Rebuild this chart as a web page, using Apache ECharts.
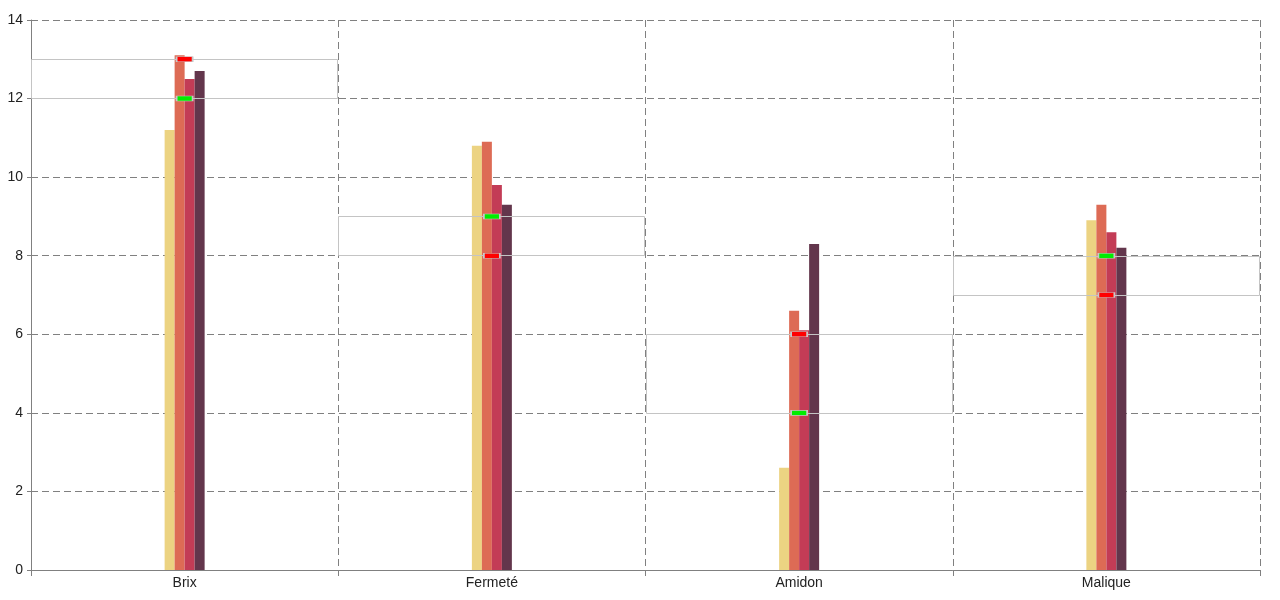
<!DOCTYPE html>
<html><head><meta charset="utf-8">
<script src="https://cdn.jsdelivr.net/npm/echarts@6/dist/echarts.min.js"></script>
<style>html,body{margin:0;padding:0;background:#fff}#c{width:1280px;height:600px}</style>
</head><body><div id="c"></div>
<script>
var categories = ['Brix', 'Fermeté', 'Amidon', 'Malique'];
var series1 = [11.2, 10.8, 2.6, 8.9];
var series2 = [13.1, 10.9, 6.6, 9.3];
var series3 = [12.5, 9.8, 6.1, 8.6];
var series4 = [12.7, 9.3, 8.3, 8.2];
var rangeLow = [12, 8, 4, 7];
var rangeHigh = [13, 9, 6, 8];
var redMarks = [13, 8, 6, 7];
var greenMarks = [12, 9, 4, 8];
var yTicks = [0, 2, 4, 6, 8, 10, 12, 14];

var colors = ['#ECD382', '#DD6B55', '#C33C56', '#63364C'];
var chart = echarts.init(document.getElementById('c'));
var font = 'Liberation Sans, Arial, sans-serif';

function bar(name, data, i) {
  return { type: 'bar', name: name, data: data, barWidth: 10, barGap: 0,
    itemStyle: { color: colors[i] }, z: 2 };
}

var rangeData = categories.map(function (c, i) { return [i, rangeLow[i], rangeHigh[i]]; });

chart.setOption({
  animation: false,
  grid: { left: 31, right: 20, top: 20, bottom: 30 },
  xAxis: {
    type: 'category', data: categories,
    axisLine: { lineStyle: { color: '#808080' } },
    axisTick: { show: true, length: 6, lineStyle: { color: '#808080' } },
    axisLabel: { color: '#222', fontSize: 14, fontFamily: font, margin: 6 },
    splitLine: { show: true, lineStyle: { color: '#808080', type: [7, 4] } }
  },
  yAxis: {
    type: 'value', min: yTicks[0], max: yTicks[yTicks.length - 1], interval: 2,
    axisLine: { show: true, lineStyle: { color: '#808080' } },
    axisTick: { show: true, length: 4, lineStyle: { color: '#808080' } },
    axisLabel: { color: '#222', fontSize: 14, fontFamily: font, margin: 8 },
    splitLine: { show: true, lineStyle: { color: '#808080', type: [7, 4] } }
  },
  series: [
    bar('s1', series1, 0),
    bar('s2', series2, 1),
    bar('s3', series3, 2),
    bar('s4', series4, 3),
    {
      type: 'custom', z: 5, data: rangeData,
      encode: { x: 0, y: [1, 2] },
      renderItem: function (params, api) {
        var c = api.value(0);
        var p1 = api.coord([c, api.value(2)]);
        var p2 = api.coord([c, api.value(1)]);
        var w = api.size([1, 0])[0];
        return {
          type: 'rect',
          shape: { x: Math.round(p1[0] - w / 2) + 0.5, y: Math.round(p1[1]) + 0.5, width: Math.round(w) - 1, height: Math.round(p2[1] - p1[1]) },
          style: { fill: 'none', stroke: '#c4c4c4', lineWidth: 1 }
        };
      }
    },
    {
      type: 'scatter', z: 6, data: redMarks, symbol: 'rect', symbolSize: [16, 5],
      itemStyle: { color: '#ff0000', borderColor: '#c8c8c8', borderWidth: 1, opacity: 1 }
    },
    {
      type: 'scatter', z: 6, data: greenMarks, symbol: 'rect', symbolSize: [16, 5],
      itemStyle: { color: '#00ee00', borderColor: '#c8c8c8', borderWidth: 1, opacity: 1 }
    }
  ]
});
</script></body></html>
